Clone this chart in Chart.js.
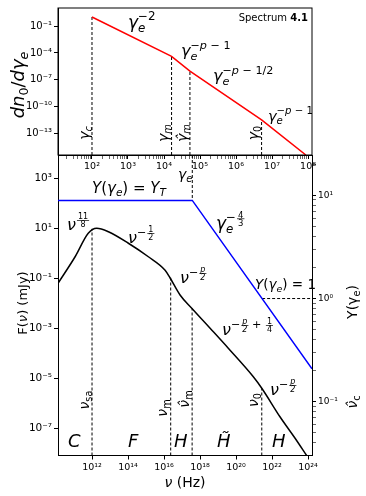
<!DOCTYPE html>
<html>
<head>
<meta charset="utf-8">
<script src="https://cdn.jsdelivr.net/npm/chart.js@4"></script>
<style>
  body { margin: 0; background: #fff; }
  #wrap { position: relative; width: 366px; height: 496px; }
  #wrap canvas { position: absolute; left: 0; top: 0; }
</style>
</head>
<body>
<div id="wrap">
  <canvas id="bottomChart" width="366" height="496"></canvas>
  <canvas id="topChart" width="366" height="200"></canvas>
</div>
<script>
// ---- data (log10 values) ----

// top panel: electron distribution dn0/dgamma_e (red broken power law)
const gammaLog = [2.0, 4.21, 4.72, 6.71, 7.94];
const dnLog    = [0.02, -4.38, -6.03, -11.46, -15.39];

// top panel: dashed markers gamma_c, gamma_m, gamma_m hat, gamma_0
const gammaMarkLog  = [2.0, 4.21, 4.72, 6.71];
const gammaMarkTop  = [0.02, -4.38, -6.03, -11.46];

// bottom panel: F(nu) black curve
const nuLog = [10.13, 11.06, 11.79, 12.26, 12.91, 14.02, 15.13, 16.06, 16.33,
               16.89, 17.54, 18.56, 19.57, 20.96, 21.43, 22.44, 23.28, 23.93];
const fluxLog = [-1.18, -0.14, 0.8, 1.0, 0.86, 0.4, -0.14, -0.68, -0.98,
                 -1.67, -2.2, -3.0, -3.8, -4.94, -5.4, -6.54, -7.4, -8.1];

// bottom panel: dashed markers nu_sa, nu_m, nu_m hat, nu_0
const nuMarkLog = [12.0, 16.37, 17.56, 21.43];
const nuMarkTop = [0.98, -0.98, -2.2, -5.4];

// bottom panel: Compton Y(gamma_e) (blue, right axis), in nu coordinates
const yNuLog = [10.11, 17.57, 24.22];
const yValLog = [0.95, 0.95, -0.68];
const yBreakNuLog = 17.57;   // gamma_e hat
const yOneNuLog = 21.45;     // where Y = 1

// tick exponents
const topXTicks = [2, 3, 4, 5, 6, 7, 8];
const topYTicks = [-1, -4, -7, -10, -13];
const botXTicks = [12, 14, 16, 18, 20, 22, 24];
const botYTicks = [3, 1, -1, -3, -5, -7];
const botY2Ticks = [-1, 0, 1];

// axis ranges (log10)
const topXRange = [1.056, 8.11];
const topYRange = [-15.39, 1.02];
const botXRange = [10.11, 24.22];
const botYRange = [-8.09, 3.93];
const botY2Range = [-1.52, 1.39];

const FONT = 'DejaVu Sans';
const P = v => Math.pow(10, v);
const SUP = {'0':'⁰','1':'¹','2':'²','3':'³','4':'⁴','5':'⁵','6':'⁶','7':'⁷','8':'⁸','9':'⁹','-':'⁻'};
function powLabel(value) {
  const e = Math.log10(value);
  if (Math.abs(e - Math.round(e)) > 1e-6) return '';
  return '10' + String(Math.round(e)).split('').map(c => SUP[c]).join('');
}
// major ticks plus minor 2..9 ticks between them
function withMinors(exps, range, minors) {
  const out = exps.map(e => ({ value: P(e), big: true }));
  if (minors) {
    for (let k = Math.floor(range[0]); k <= Math.ceil(range[1]); k++) {
      for (let m = 2; m <= 9; m++) {
        const l = k + Math.log10(m);
        if (l > range[0] && l < range[1]) out.push({ value: P(l), big: false });
      }
    }
  }
  out.sort((a, b) => a.value - b.value);
  return out;
}

function logAxis(opts) {
  return {
    type: 'logarithmic',
    position: opts.position,
    min: P(opts.range[0]),
    max: P(opts.range[1]),
    afterBuildTicks: s => { s.ticks = withMinors(opts.ticks, opts.range, opts.minors); },
    afterFit: s => {
      if (opts.width) s.width = opts.width;
      if (opts.height) s.height = opts.height;
    },
    border: { display: true, color: '#000', width: 1 },
    grid: {
      drawOnChartArea: false, drawTicks: true, tickLength: 4, color: '#000',
      tickWidth: ctx => (ctx.tick && ctx.tick.big === false) ? 0.6 : 1
    },
    ticks: {
      autoSkip: false, maxRotation: 0, minRotation: 0, padding: 2, color: '#000',
      font: { family: FONT, size: opts.fontSize },
      callback: v => powLabel(v)
    }
  };
}

// ---- small math text renderer ----
// token: [kind, text, style]  kind: b base, sub, sup, fr (fraction at sup level); style: i, r, B
function fontFor(style, size) {
  return (style === 'i' ? 'italic ' : style === 'B' ? 'bold ' : '') + size + 'px ' + FONT;
}
function richRun(ctx, x, y, size, tokens, draw) {
  let cx = x, subStart = x, supEnd = x, last = null;
  for (const [kind, txt, style] of tokens) {
    if (kind === 'b') {
      ctx.font = fontFor(style || 'i', size);
      if (draw) ctx.fillText(txt, cx, y);
      cx += ctx.measureText(txt).width;
    } else if (kind === 'sub') {
      const s = size * 0.7;
      ctx.font = fontFor(style || 'i', s);
      subStart = cx;
      if (draw) ctx.fillText(txt, cx, y + size * 0.22);
      cx += ctx.measureText(txt).width;
    } else if (kind === 'sup') {
      const s = size * 0.7;
      ctx.font = fontFor(style || 'r', s);
      const sx = last === 'sub' ? subStart : (last === 'sup' || last === 'fr') ? supEnd : cx;
      if (draw) ctx.fillText(txt, sx, y - size * 0.45);
      supEnd = sx + ctx.measureText(txt).width;
      cx = Math.max(cx, supEnd);
    } else if (kind === 'fr') {
      const s = size * 0.5;
      const [num, den] = txt.split('/');
      ctx.font = fontFor(style || 'r', s);
      const wn = ctx.measureText(num).width, wd = ctx.measureText(den).width;
      const w = Math.max(wn, wd) + 2;
      const sx = last === 'sub' ? subStart : (last === 'sup' || last === 'fr') ? supEnd + 1 : cx + 1;
      const barY = y - size * 0.6;
      if (draw) {
        ctx.fillText(num, sx + (w - wn) / 2, barY - 1.2);
        ctx.fillText(den, sx + (w - wd) / 2, barY + s * 0.75 + 1);
        ctx.fillRect(sx, barY - 0.35, w, 0.7);
      }
      supEnd = sx + w;
      cx = Math.max(cx, supEnd);
    }
    last = kind;
  }
  return cx - x;
}
function richText(ctx, lab) {
  ctx.save();
  ctx.fillStyle = lab.color || '#000';
  ctx.textBaseline = 'alphabetic';
  ctx.textAlign = 'left';
  let x = lab.x, y = lab.y;
  if (lab.rot) {
    ctx.translate(lab.x, lab.y);
    ctx.rotate(-Math.PI / 2);
    x = 0; y = 0;
  }
  const w = richRun(ctx, 0, 0, lab.size, lab.tokens, false);
  if (lab.align === 'center') x -= w / 2;
  if (lab.align === 'right') x -= w;
  richRun(ctx, x, y, lab.size, lab.tokens, true);
  ctx.restore();
}

const gam = [['b', 'γ', 'i'], ['sub', 'e', 'i']];

const topLabels = [
  { x: 128, y: 28, size: 17, tokens: [...gam, ['sup', '−2']] },
  { x: 181, y: 56, size: 16, tokens: [...gam, ['sup', '−'], ['sup', 'p', 'i'], ['sup', ' − 1']] },
  { x: 213, y: 81, size: 16, tokens: [...gam, ['sup', '−'], ['sup', 'p', 'i'], ['sup', ' − 1/2']] },
  { x: 268, y: 121, size: 14.5, tokens: [...gam, ['sup', '−'], ['sup', 'p', 'i'], ['sup', ' − 1']] },
  { x: 308, y: 21, size: 10, align: 'right', tokens: [['b', 'Spectrum ', 'r'], ['b', '4.1', 'B']] },
  { x: 89, y: 133, size: 14, rot: true, align: 'center', tokens: [['b', 'γ', 'i'], ['sub', 'c', 'i']] },
  { x: 168, y: 133, size: 14, rot: true, align: 'center', tokens: [['b', 'γ', 'i'], ['sub', 'm', 'i']] },
  { x: 187, y: 133, size: 14, rot: true, align: 'center', tokens: [['b', 'γ̂', 'i'], ['sub', 'm', 'i']] },
  { x: 258, y: 133, size: 14, rot: true, align: 'center', tokens: [['b', 'γ', 'i'], ['sub', '0', 'r']] },
  { x: 24, y: 85, size: 18, rot: true, align: 'center',
    tokens: [['b', 'dn', 'i'], ['sub', '0', 'r'], ['b', '/', 'r'], ['b', 'dγ', 'i'], ['sub', 'e', 'i']] }
];

const nu = [['b', 'ν', 'i']];
const botLabels = [
  { x: 92, y: 193, size: 15, tokens: [['b', 'Y', 'i'], ['b', '(', 'r'], ...gam, ['b', ') = ', 'r'], ['b', 'Y', 'i'], ['sub', 'T', 'i']] },
  { x: 216, y: 229, size: 17, tokens: [...gam, ['sup', '−'], ['fr', '4/3']] },
  { x: 255, y: 289, size: 13.5, tokens: [['b', 'Y', 'i'], ['b', '(', 'r'], ...gam, ['b', ') = 1', 'r']] },
  { x: 178, y: 179, size: 14, tokens: [...gam] },
  { x: 67, y: 230, size: 16, tokens: [...nu, ['fr', '11/8']] },
  { x: 128, y: 243, size: 16, tokens: [...nu, ['sup', '−'], ['fr', '1/2']] },
  { x: 180, y: 283, size: 16, tokens: [...nu, ['sup', '−'], ['fr', 'p/2', 'i']] },
  { x: 222, y: 335, size: 16, tokens: [...nu, ['sup', '−'], ['fr', 'p/2', 'i'], ['sup', ' + '], ['fr', '1/4']] },
  { x: 270, y: 395, size: 16, tokens: [...nu, ['sup', '−'], ['fr', 'p/2', 'i']] },
  { x: 68, y: 447, size: 18, tokens: [['b', 'C', 'i']] },
  { x: 128, y: 447, size: 18, tokens: [['b', 'F', 'i']] },
  { x: 174, y: 447, size: 18, tokens: [['b', 'H', 'i']] },
  { x: 217, y: 447, size: 18, tokens: [['b', 'H̃', 'i']] },
  { x: 272, y: 447, size: 18, tokens: [['b', 'H', 'i']] },
  { x: 89, y: 400, size: 14, rot: true, align: 'center', tokens: [...nu, ['sub', 'sa', 'r']] },
  { x: 167, y: 408, size: 14, rot: true, align: 'center', tokens: [...nu, ['sub', 'm', 'r']] },
  { x: 189, y: 399, size: 14, rot: true, align: 'center', tokens: [['b', 'ν̂', 'i'], ['sub', 'm', 'r']] },
  { x: 258, y: 400, size: 14, rot: true, align: 'center', tokens: [...nu, ['sub', '0', 'r']] },
  { x: 185, y: 487, size: 14, align: 'center', tokens: [...nu, ['b', ' (Hz)', 'r']] },
  { x: 27, y: 303, size: 13, rot: true, align: 'center', tokens: [['b', 'F(', 'r'], ...nu, ['b', ') (mJy)', 'r']] },
  { x: 357, y: 302, size: 14, rot: true, align: 'center', tokens: [['b', 'Y(', 'r'], ['b', 'γ', 'r'], ['sub', 'e', 'r'], ['b', ')', 'r']] },
  { x: 357, y: 402, size: 14, rot: true, align: 'center', tokens: [['b', 'ν̂', 'i'], ['sub', 'c', 'r']] }
];

function labelPlugin(list, frame) {
  return {
    id: 'labels',
    afterDraw(chart) {
      const ctx = chart.ctx;
      if (frame) {
        const a = chart.chartArea;
        ctx.save();
        ctx.strokeStyle = '#000';
        ctx.lineWidth = 1;
        ctx.strokeRect(a.left, a.top, a.right - a.left, a.bottom - a.top);
        ctx.restore();
      }
      list.forEach(l => richText(ctx, l));
    }
  };
}

function dashedSeg(points, axis) {
  return {
    data: points, yAxisID: axis, borderColor: '#000', borderWidth: 1,
    borderDash: [3, 2], pointRadius: 0, tension: 0, fill: false
  };
}

// ---- top panel ----
const topDatasets = [{
  data: gammaLog.map((g, i) => ({ x: P(g), y: P(dnLog[i]) })),
  yAxisID: 'y', borderColor: '#ff0000', borderWidth: 1.5, pointRadius: 0, tension: 0
}];
gammaMarkLog.forEach((g, i) => {
  topDatasets.push(dashedSeg([{ x: P(g), y: P(topYRange[0]) }, { x: P(g), y: P(gammaMarkTop[i]) }], 'y'));
});

new Chart(document.getElementById('topChart'), {
  type: 'line',
  data: { datasets: topDatasets },
  options: {
    responsive: false, animation: false, devicePixelRatio: 1,
    layout: { padding: { top: 6, right: 54, left: 0, bottom: 0 } },
    plugins: { legend: { display: false }, tooltip: { enabled: false } },
    scales: {
      x: logAxis({ position: 'bottom', range: topXRange, ticks: topXTicks, minors: true, height: 45, fontSize: 9.5 }),
      y: logAxis({ position: 'left', range: topYRange, ticks: topYTicks, minors: false, width: 58, fontSize: 10 })
    }
  },
  plugins: [labelPlugin(topLabels, true)]
});

// ---- bottom panel ----
const botDatasets = [
  {
    data: nuLog.map((n, i) => ({ x: P(n), y: P(fluxLog[i]) })),
    yAxisID: 'y', borderColor: '#000', borderWidth: 1.5, pointRadius: 0,
    cubicInterpolationMode: 'monotone'
  },
  {
    data: yNuLog.map((n, i) => ({ x: P(n), y: P(yValLog[i]) })),
    yAxisID: 'y2', borderColor: '#0000ff', borderWidth: 1.5, pointRadius: 0, tension: 0
  },
  dashedSeg([{ x: P(yBreakNuLog), y: P(botY2Range[1]) }, { x: P(yBreakNuLog), y: P(yValLog[1]) }], 'y2'),
  dashedSeg([{ x: P(yOneNuLog), y: 1 }, { x: P(botXRange[1]), y: 1 }], 'y2')
];
nuMarkLog.forEach((n, i) => {
  botDatasets.push(dashedSeg([{ x: P(n), y: P(botYRange[0]) }, { x: P(n), y: P(nuMarkTop[i]) }], 'y'));
});

new Chart(document.getElementById('bottomChart'), {
  type: 'line',
  data: { datasets: botDatasets },
  options: {
    responsive: false, animation: false, devicePixelRatio: 1,
    layout: { padding: { top: 155, right: 0, left: 0, bottom: 0 } },
    plugins: { legend: { display: false }, tooltip: { enabled: false } },
    scales: {
      x: logAxis({ position: 'bottom', range: botXRange, ticks: botXTicks, minors: false, height: 40.5, fontSize: 9.5 }),
      y: logAxis({ position: 'left', range: botYRange, ticks: botYTicks, minors: false, width: 58, fontSize: 10.5 }),
      y2: logAxis({ position: 'right', range: botY2Range, ticks: botY2Ticks, minors: true, width: 54, fontSize: 9 })
    }
  },
  plugins: [labelPlugin(botLabels, false)]
});
</script>
</body>
</html>
